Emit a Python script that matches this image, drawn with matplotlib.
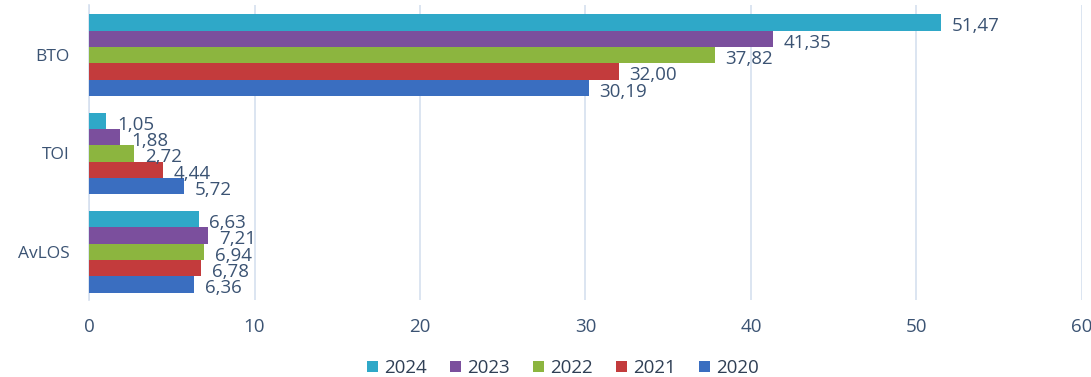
import matplotlib
matplotlib.use("Agg")
import matplotlib.pyplot as plt
import numpy as np

plt.rcParams['font.family'] = ['Open Sans', 'DejaVu Sans']

categories = ["BTO", "TOI", "AvLOS"]
years = ["2024", "2023", "2022", "2021", "2020"]
values = {
    "2024": [51.47, 1.05, 6.63],
    "2023": [41.35, 1.88, 7.21],
    "2022": [37.82, 2.72, 6.94],
    "2021": [32.00, 4.44, 6.78],
    "2020": [30.19, 5.72, 6.36],
}
colors = {
    "2024": "#2fa8c8",
    "2023": "#7b4f9d",
    "2022": "#8cb53f",
    "2021": "#c33b3c",
    "2020": "#3a6ec0",
}
x_ticks = [0, 10, 20, 30, 40, 50, 60]

text_color = "#3b5373"
grid_color = "#d6e0ef"

fig = plt.figure(figsize=(10.91, 3.77), dpi=100)
ax = fig.add_axes([0.0816, 0.2042, 0.9101, 0.7825])

n = len(years)
bar_h = 0.166
y_base = np.arange(len(categories))
for i, yr in enumerate(years):
    offs = (i - (n - 1) / 2) * bar_h
    ys = y_base + offs
    ax.barh(ys, values[yr], height=bar_h, color=colors[yr], label=yr,
            edgecolor="none", zorder=3)
    for y, v in zip(ys, values[yr]):
        ax.text(v + 0.65, y + 0.04, f"{v:.2f}".replace(".", ","),
                va="center", ha="left", fontsize=13.5, color=text_color, zorder=4)

ax.set_ylim(2.49, -0.51)
ax.set_xlim(0, 60)
ax.set_xticks(x_ticks)
ax.set_yticks(y_base)
ax.set_yticklabels(categories)
ax.tick_params(axis="x", length=0, labelsize=13.5, colors=text_color, pad=13)
ax.tick_params(axis="y", length=0, labelsize=12.5, colors=text_color, pad=14)
ax.grid(axis="x", color=grid_color, linewidth=1.2, zorder=0)
for s in ["top", "right", "bottom"]:
    ax.spines[s].set_visible(False)
ax.spines["left"].set_color(grid_color)
ax.spines["left"].set_linewidth(1.2)

handles, labels = ax.get_legend_handles_labels()
fig.legend(handles, labels, loc="lower center", ncol=5, frameon=False,
           bbox_to_anchor=(0.516, -0.045), fontsize=13.5, handlelength=0.6,
           handleheight=0.6, handletextpad=0.35, columnspacing=1.2,
           labelcolor="#2f3f55")

fig.savefig("out.png", dpi=100)
